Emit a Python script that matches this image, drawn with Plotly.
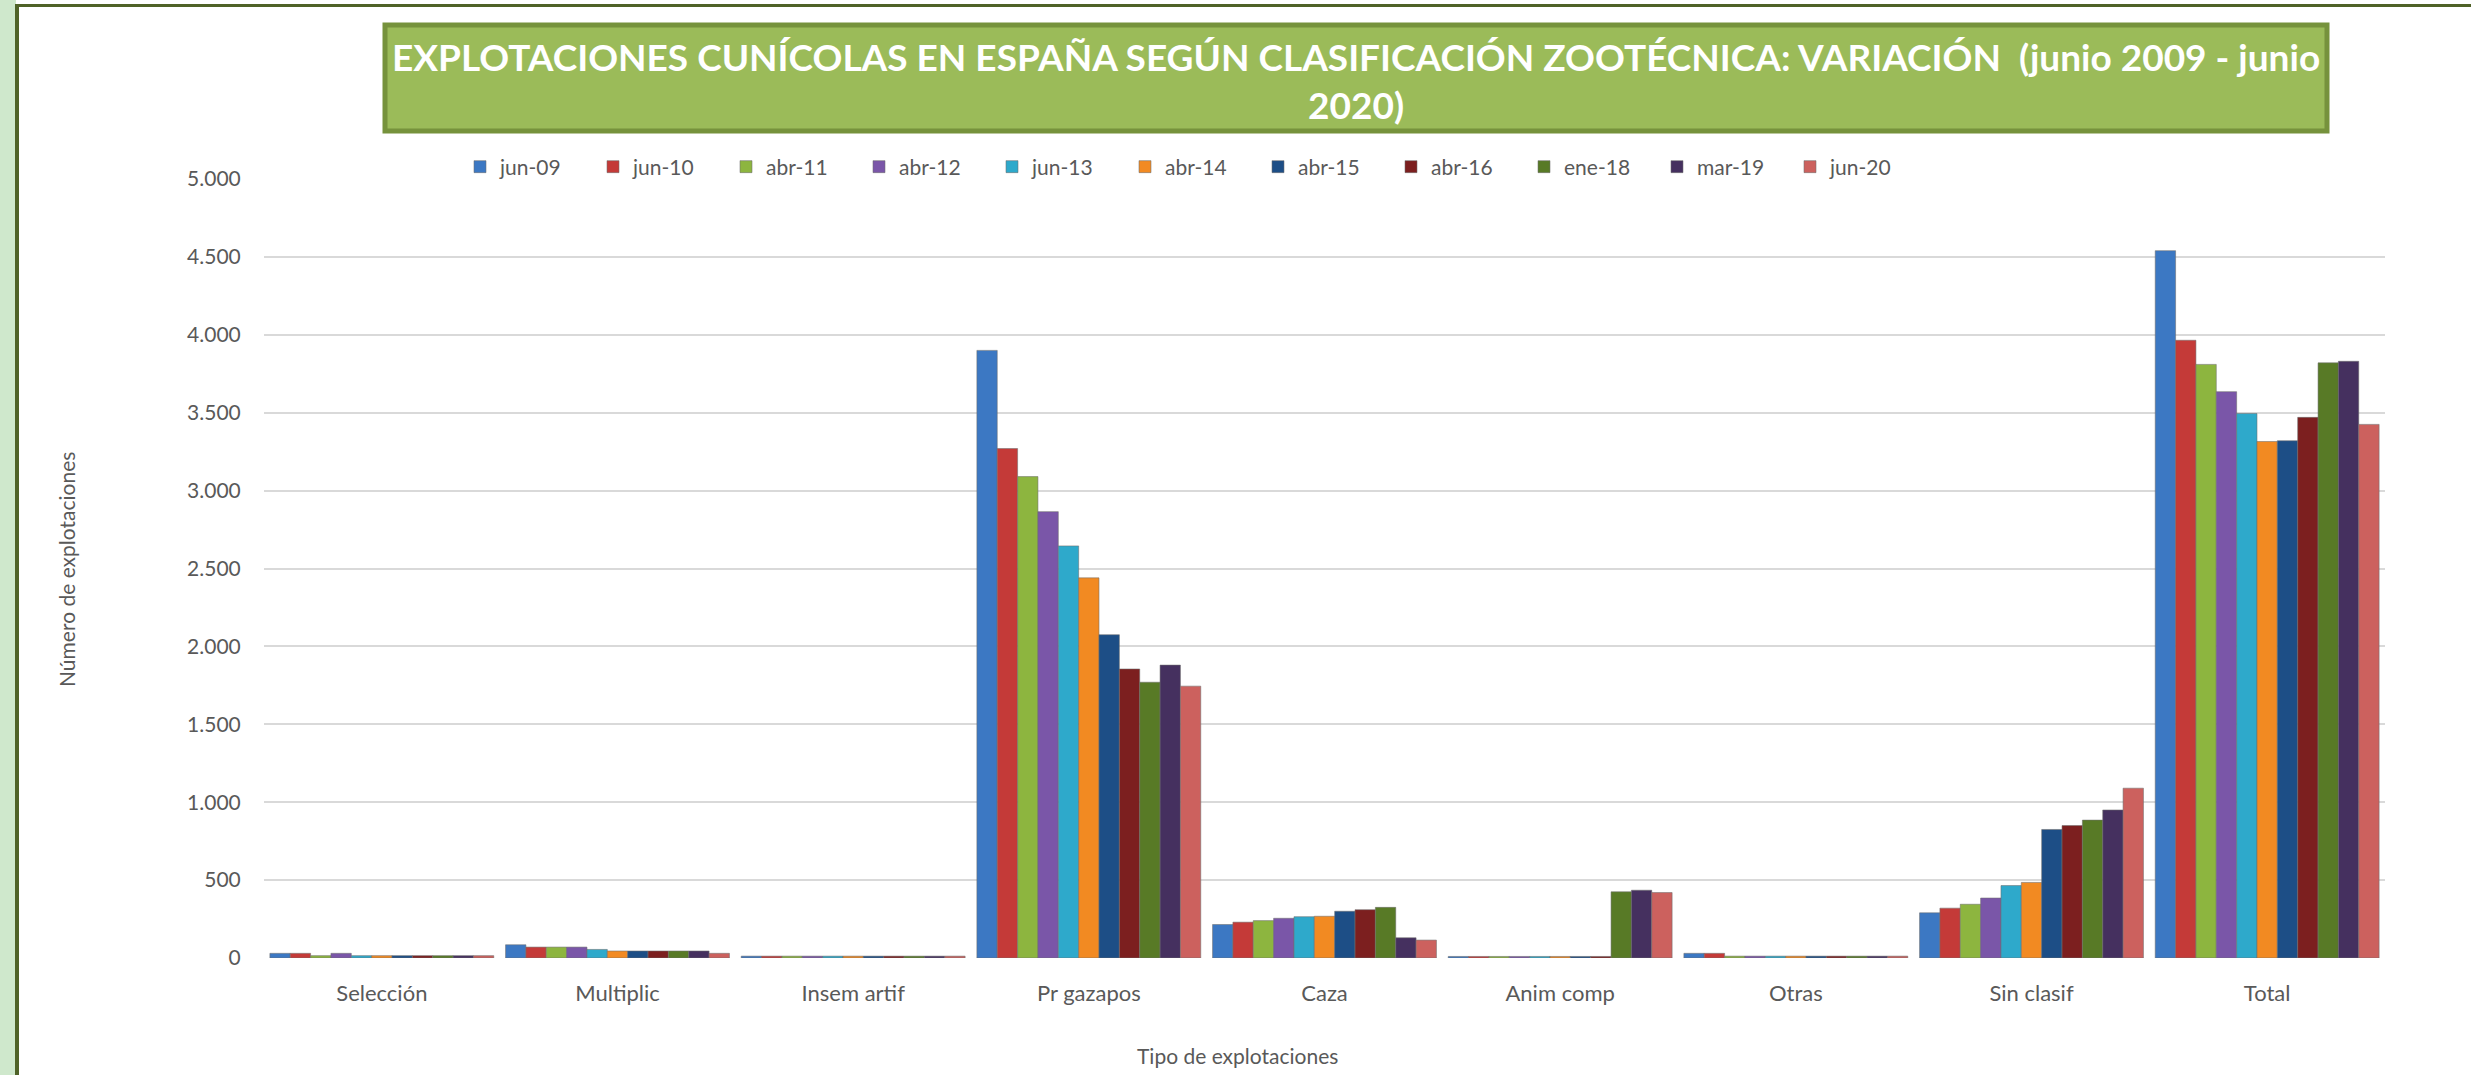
import plotly.graph_objects as go

# Explotaciones cunícolas por clasificación zootécnica (junio 2009 - junio 2020)
categorias = ['Selección', 'Multiplic', 'Insem artif', 'Pr gazapos', 'Caza',
              'Anim comp', 'Otras', 'Sin clasif', 'Total']

fechas = ['jun-09', 'jun-10', 'abr-11', 'abr-12', 'jun-13', 'abr-14',
          'abr-15', 'abr-16', 'ene-18', 'mar-19', 'jun-20']

jun_09 = [30, 85, 12, 3900, 215, 10, 30, 290, 4540]
jun_10 = [30, 70, 12, 3270, 230, 10, 30, 320, 3965]
abr_11 = [15, 70, 12, 3090, 240, 10, 12, 345, 3810]
abr_12 = [30, 70, 12, 2865, 255, 10, 12, 385, 3635]
jun_13 = [15, 55, 12, 2645, 265, 10, 12, 465, 3495]
abr_14 = [15, 45, 12, 2440, 268, 10, 12, 485, 3315]
abr_15 = [15, 45, 12, 2075, 300, 10, 12, 825, 3320]
abr_16 = [15, 45, 12, 1855, 310, 10, 12, 850, 3470]
ene_18 = [15, 45, 12, 1770, 325, 425, 12, 885, 3820]
mar_19 = [15, 45, 12, 1880, 130, 435, 12, 950, 3830]
jun_20 = [15, 30, 12, 1745, 115, 420, 12, 1090, 3425]

series = [jun_09, jun_10, abr_11, abr_12, jun_13, abr_14,
          abr_15, abr_16, ene_18, mar_19, jun_20]

colores = ['#3C78C3', '#C43A38', '#8DB53F', '#7A56A8', '#2EA9CB', '#F28A22',
           '#1D4E86', '#7C1F1F', '#587A26', '#45305F', '#CC615E']

# Figure geometry in pixels (plot area from the reference)
W, H = 2471, 1075
L, R, T, B = 264, 2385, 179, 958
PW, PH = R - L, B - T


def px(x):
    return (x - L) / PW


def py(y):
    return (B - y) / PH


fig = go.Figure()

for nombre, valores, color in zip(fechas, series, colores):
    fig.add_trace(go.Bar(x=categorias, y=valores, name=nombre,
                         marker=dict(color=color, line=dict(color='rgba(110,110,110,0.55)', width=1))))

gris = '#595959'

fig.update_layout(
    width=W, height=H,
    margin=dict(l=L, r=W - R, t=T, b=H - B, autoexpand=False),
    paper_bgcolor='white', plot_bgcolor='white',
    font=dict(family='Lato', color=gris, size=21),
    separators=',.',
    barmode='group', bargap=0.05, bargroupgap=0,
    showlegend=True,
    legend=dict(orientation='h', x=px(460), xanchor='left', y=py(167), yanchor='middle',
                font=dict(family='Lato', size=21, color=gris),
                entrywidth=88, entrywidthmode='pixels', bgcolor='rgba(0,0,0,0)'),
    xaxis=dict(showgrid=False, showline=False, zeroline=False,
               ticks='outside', ticklen=16, tickcolor='rgba(0,0,0,0)',
               tickfont=dict(family='Lato', size=22, color=gris)),
    yaxis=dict(range=[0, 5000], dtick=500, separatethousands=True,
               showgrid=True, gridcolor='#D9D9D9', gridwidth=2,
               zeroline=False, showline=False,
               ticks='outside', ticklen=18, tickcolor='rgba(0,0,0,0)',
               tickfont=dict(family='Lato', size=21, color=gris)),
)

# Frame: light green strip, dark green left and top borders
fig.add_shape(type='rect', xref='paper', yref='paper', layer='below',
              x0=px(0), x1=px(16), y0=py(H), y1=py(0),
              fillcolor='#CFE8CC', line=dict(width=0))
fig.add_shape(type='line', xref='paper', yref='paper',
              x0=px(17), x1=px(17), y0=py(H), y1=py(4),
              line=dict(color='#4F6228', width=4))
fig.add_shape(type='line', xref='paper', yref='paper',
              x0=px(15), x1=px(W), y0=py(5.5), y1=py(5.5),
              line=dict(color='#4F6228', width=3))

# Title box
fig.add_shape(type='rect', xref='paper', yref='paper',
              x0=px(385), x1=px(2327), y0=py(131), y1=py(25),
              fillcolor='#9BBB59', line=dict(color='#76923C', width=5))
fig.add_annotation(xref='paper', yref='paper', x=px(1356), y=py(80),
                   xanchor='center', yanchor='middle', showarrow=False, align='center',
                   text='EXPLOTACIONES CUNÍCOLAS EN ESPAÑA SEGÚN CLASIFICACIÓN ZOOTÉCNICA: VARIACIÓN  (junio 2009 - junio<br>2020)',
                   font=dict(family='Lato', size=37, color='white', weight='bold'))

# Axis titles
fig.add_annotation(xref='paper', yref='paper', x=px(1237), y=py(1055),
                   xanchor='center', yanchor='middle', showarrow=False,
                   text='Tipo de explotaciones', font=dict(family='Lato', size=21, color=gris))
fig.add_annotation(xref='paper', yref='paper', x=px(66), y=py(570),
                   xanchor='center', yanchor='middle', showarrow=False, textangle=-90,
                   text='Número de explotaciones', font=dict(family='Lato', size=21, color=gris))

fig.write_html('out.html', config={'displayModeBar': False},
               post_script="document.body.style.margin='0';document.body.style.overflow='hidden';")
